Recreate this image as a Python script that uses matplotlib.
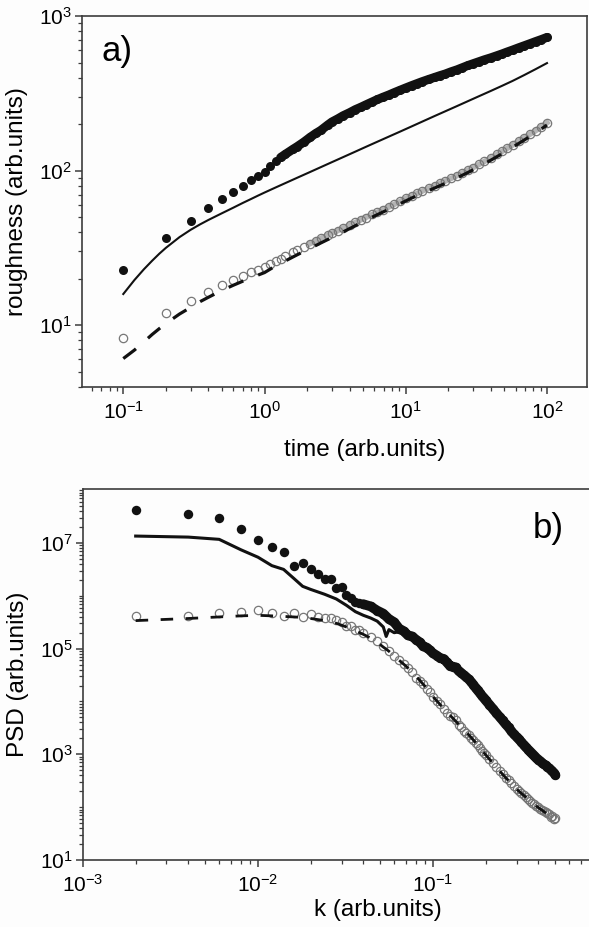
import numpy as np
import matplotlib
matplotlib.use('Agg')
import matplotlib.pyplot as plt
from matplotlib.ticker import LogLocator, NullFormatter

plt.rcParams['font.family'] = ['Liberation Sans', 'DejaVu Sans']
plt.rcParams['mathtext.default'] = 'regular'

# ---- panel a) roughness vs time ----
time_a = [0.1, 0.2, 0.3, 0.4, 0.5, 0.6, 0.7, 0.8, 0.9,
          1.0, 1.1, 1.2, 1.3, 1.4, 1.6, 1.7, 1.9, 2.1, 2.3, 2.5, 2.8, 3.0, 3.3, 3.6, 4.0,
          4.4, 4.8, 5.2, 5.8, 6.3, 6.9, 7.6, 8.3, 9.1,
          10, 11, 12, 13, 14.5, 16, 17.5, 19, 21, 23, 25, 27.5, 30, 33, 36, 40,
          44, 48, 52, 57, 63, 69, 76, 83, 91, 100]

rough_filled = [22.9, 36.7, 47.5, 56.9, 65.3, 72.3, 79.8, 86.3, 92.7,
                97.7, 107.2, 114.8, 121.6, 127.4, 138.0, 142.9, 153.1, 164.1, 173.8, 182.0, 197.2,
                206.5, 216.3, 226.5, 237.1, 248.3, 257.0, 266.1, 278.6, 288.4, 298.5, 309.0, 319.9, 331.1,
                342.8, 354.8, 365.6, 375.8, 389.0, 400.9, 412.1, 421.7, 436.5, 448.7, 462.4, 478.6,
                492.0, 507.0, 521.2, 537.0, 553.4, 568.9, 584.8, 602.6, 623.7, 642.7, 663.7, 683.9,
                704.7, 727.8]

rough_open = [8.2, 11.97, 14.35, 16.44, 18.07, 19.45, 20.75, 21.93, 22.8,
              23.7, 24.8, 25.9, 26.9, 27.9, 29.6, 30.5, 32.1, 33.7, 35.1, 36.4, 38.2,
              39.4, 40.9, 42.5, 44.5, 46.2, 48.0, 49.7, 52.0, 53.8, 56.0, 58.2, 60.5, 63.1,
              66.1, 68.7, 71.1, 73.5, 76.7, 79.8, 82.8, 85.5, 89.1, 92.7, 96.2, 100.5,
              104.7, 109.6, 114.6, 120.8, 127.1, 133.0, 139.0, 146.2, 154.9, 162.9, 172.2, 181.1,
              191.9, 204.2]

# model curves (solid / dashed) of panel a
time_line = [0.1, 0.12, 0.14, 0.16, 0.18, 0.2, 0.25, 0.3, 0.35, 0.4, 0.5, 0.6, 0.7, 0.8, 0.9,
             1.0, 1.2, 1.4, 1.7, 2.1, 2.5, 3.0, 3.6, 4.4, 5.2, 6.3, 7.6, 9.1,
             11, 13, 16, 19, 23, 27.5, 33, 40, 48, 57, 69, 83, 100]

rough_solid = [15.9, 19.6, 23.0, 26.1, 29.0, 31.6, 37.1, 41.4, 44.9, 47.9, 53.0, 57.5, 61.7, 65.4, 68.9,
               72.1, 77.8, 82.9, 89.8, 97.9, 105.2, 113.4, 122.2, 132.7, 142.2, 153.8, 166.0, 178.6,
               193.1, 206.9, 225.4, 241.7, 261.2, 281.1, 302.9, 327.6, 353.4, 380.2, 415.0, 453.0, 496.0]

rough_dashed = [6.08, 6.9, 7.8, 8.7, 9.5, 10.23, 11.8, 13.03, 14.2, 15.14, 16.79, 18.11, 19.23, 20.23, 21.09,
                21.88, 24.2, 26.0, 28.5, 31.4, 34.0, 36.9, 40.1, 44.0, 47.7, 51.9, 56.2, 61.0,
                66.4, 71.0, 77.1, 82.6, 89.6, 97.1, 105.9, 116.7, 128.5, 141.4, 157.6, 175.3, 197.0]

# ---- panel b) PSD vs k ----
k_pts = [0.002, 0.004, 0.006, 0.008, 0.010, 0.012, 0.014, 0.016, 0.018, 0.020,
         0.022, 0.024, 0.026, 0.028, 0.030, 0.032, 0.034, 0.036, 0.038, 0.040,
         0.044, 0.048, 0.052, 0.056, 0.060, 0.064, 0.068, 0.072, 0.076, 0.080,
         0.084, 0.088, 0.092, 0.096, 0.100,
         0.105, 0.110, 0.115, 0.120, 0.125, 0.130, 0.135, 0.140, 0.145, 0.150,
         0.155, 0.160, 0.165, 0.170, 0.175, 0.180, 0.185, 0.190, 0.195, 0.200,
         0.21, 0.22, 0.23, 0.24, 0.25, 0.26, 0.27, 0.28, 0.29, 0.30,
         0.31, 0.32, 0.33, 0.34, 0.35, 0.36, 0.37, 0.38, 0.39, 0.40,
         0.41, 0.42, 0.43, 0.44, 0.45, 0.46, 0.47, 0.48, 0.49, 0.50]

psd_filled = [4.27e7, 3.55e7, 3.02e7, 1.82e7, 1.15e7, 8.32e6, 6.61e6, 3.63e6, 4.17e6, 3.16e6,
              2.57e6, 2.04e6, 2.04e6, 1.38e6, 1.45e6, 1.05e6, 8.91e5, 7.76e5, 7.24e5, 6.92e5,
              6.3e5, 5.25e5, 4.6e5, 3.63e5, 3.16e5, 2.4e5, 2.14e5, 1.78e5, 1.7e5, 1.48e5,
              1.32e5, 1.1e5, 1.05e5, 9.33e4, 8.13e4,
              7.41e4, 6.61e4, 6.4e4, 5.5e4, 4.7e4, 4.57e4, 4.4e4, 3.8e4, 3.47e4, 3.16e4,
              2.88e4, 2.63e4, 2.34e4, 2.09e4, 1.82e4, 1.62e4, 1.45e4, 1.29e4, 1.17e4, 1.05e4,
              8.71e3, 7.24e3, 6.03e3, 5.13e3, 4.37e3, 3.72e3, 3.24e3, 2.75e3, 2.4e3, 2.14e3,
              1.91e3, 1.7e3, 1.51e3, 1.35e3, 1.23e3, 1.12e3, 1.02e3, 933, 851, 794,
              741, 692, 646, 617, 575, 550, 513, 479, 447, 407]

psd_open = [4.17e5, 4.15e5, 4.79e5, 5.01e5, 5.37e5, 4.79e5, 4.17e5, 4.68e5, 3.98e5, 4.52e5,
            3.98e5, 3.72e5, 3.72e5, 3.47e5, 3.16e5, 2.69e5, 2.69e5, 2.29e5, 2.24e5, 2.0e5,
            1.66e5, 1.38e5, 1.12e5, 8.91e4, 7.41e4, 6.03e4, 5.13e4, 4.27e4, 3.55e4, 2.82e4,
            2.45e4, 2.14e4, 1.74e4, 1.48e4, 1.2e4,
            1.0e4, 8.91e3, 7.24e3, 6.17e3, 5.25e3, 5.01e3, 4.37e3, 3.63e3, 3.31e3, 2.82e3,
            2.51e3, 2.34e3, 2.0e3, 1.86e3, 1.62e3, 1.51e3, 1.32e3, 1.15e3, 1.07e3, 955,
            813, 676, 575, 479, 417, 363, 324, 282, 251, 219,
            200, 186, 170, 155, 145, 132, 120, 115, 107, 100,
            93.3, 89.1, 85.1, 79.4, 75.9, 74, 64, 69, 60, 63]

k_line = [0.002, 0.004, 0.006, 0.008, 0.010, 0.012, 0.014, 0.016, 0.018, 0.020,
          0.024, 0.028, 0.032, 0.036, 0.040, 0.044, 0.048, 0.052, 0.054, 0.056,
          0.060, 0.064, 0.070, 0.076, 0.084, 0.092, 0.10, 0.12, 0.14, 0.16,
          0.18, 0.20, 0.25, 0.30, 0.35, 0.40, 0.45, 0.50]

psd_solid = [1.35e7, 1.29e7, 1.17e7, 7.41e6, 5.37e6, 3.72e6, 3.16e6, 2.14e6, 1.51e6, 1.32e6,
             1.07e6, 8.71e5, 6.61e5, 5.01e5, 4.27e5, 3.8e5, 3.31e5, 2.57e5, 1.7e5, 2.29e5,
             2.0e5, 2.09e5, 1.78e5, 1.51e5, 1.26e5, 1.0e5, 7.94e4, 5.25e4, 3.63e4, 2.51e4,
             1.58e4, 1.02e4, 4.27e3, 2.09e3, 1.2e3, 776, 562, 398]

psd_dashed = [3.39e5, 3.72e5, 3.98e5, 4.17e5, 4.27e5, 4.17e5, 4.07e5, 3.98e5, 3.89e5, 3.72e5,
              3.39e5, 3.02e5, 2.57e5, 2.19e5, 1.86e5, 1.58e5, 1.32e5, 1.07e5, 9.77e4, 8.91e4,
              7.24e4, 6.03e4, 4.68e4, 3.55e4, 2.51e4, 1.78e4, 1.23e4, 6.31e3, 3.72e3, 2.34e3,
              1.51e3, 977, 417, 219, 141, 97.7, 74.1, 58.9]

fig = plt.figure(figsize=(5.89, 9.27), dpi=100)
fig.patch.set_facecolor('#fdfdfd')

ax1 = fig.add_axes([0.1392, 0.5829, 0.8574, 0.3998])
ax2 = fig.add_axes([0.1409, 0.0723, 0.8778, 0.4002])

spine_col = '#3c3c3c'
open_col = '#777777'
black = '#111111'

# panel a
# the data points are so dense after t~1 that they merge into a band
ax1.plot(time_a[17:], rough_open[17:], color='#b4b4b4', lw=4.0, zorder=1)
ax1.plot(time_a, rough_open, 'o', ms=6.0, mfc='none', mec=open_col, mew=0.9, zorder=2)
ax1.plot(time_line, rough_dashed, color=black, lw=2.3, ls=(0, (5, 5)), zorder=3)
ax1.plot(time_line, rough_solid, color=black, lw=1.5, zorder=3)
ax1.plot(time_a[12:], rough_filled[12:], color=black, lw=6.4, solid_capstyle='round', zorder=4)
ax1.plot(time_a, rough_filled, 'o', ms=6.5, color=black, mew=0, zorder=4)

ax1.set_xscale('log')
ax1.set_yscale('log')
ax1.set_xlim(0.051, 192)
ax1.set_ylim(4, 1000)
ax1.set_xlabel('time (arb.units)', fontsize=17.5)
ax1.set_ylabel('roughness (arb.units)', fontsize=17.5, labelpad=8)
ax1.xaxis.set_label_coords(0.56, -0.14)
ax1.text(0.038, 0.88, 'a)', transform=ax1.transAxes, fontsize=25, va='baseline', ha='left')

# panel b
ax2.plot(k_pts, psd_open, 'o', ms=6.0, mfc='none', mec=open_col, mew=0.9, zorder=2)
ax2.plot(k_line, psd_dashed, color=black, lw=2.0, ls=(0, (4.5, 4.5)), zorder=3)
ax2.plot(k_line, psd_solid, color=black, lw=2.2, zorder=3)
ax2.plot(k_pts[19:], psd_filled[19:], color=black, lw=7.0, solid_capstyle='round', zorder=4)
ax2.plot(k_pts, psd_filled, 'o', ms=6.8, color=black, mew=0, zorder=4)

ax2.set_xscale('log')
ax2.set_yscale('log')
ax2.set_xlim(1e-3, 0.90)
ax2.set_ylim(10, 1.05e8)
ax2.set_yticks([1e1, 1e3, 1e5, 1e7])
ax2.yaxis.set_minor_locator(LogLocator(base=10, subs=np.arange(1, 10), numticks=40))
ax2.set_xlabel('k (arb.units)', fontsize=17.5)
ax2.set_ylabel('PSD (arb.units)', fontsize=17.5, labelpad=8)
ax2.xaxis.set_label_coords(0.57, -0.105)
ax2.text(0.87, 0.868, 'b)', transform=ax2.transAxes, fontsize=25, va='baseline', ha='left')

for ax in (ax1, ax2):
    for s in ax.spines.values():
        s.set_color(spine_col)
        s.set_linewidth(1.2)
    ax.xaxis.set_minor_locator(LogLocator(base=10, subs=np.arange(2, 10), numticks=40))
    if ax is ax1:
        ax.yaxis.set_minor_locator(LogLocator(base=10, subs=np.arange(2, 10), numticks=40))
    ax.xaxis.set_minor_formatter(NullFormatter())
    ax.yaxis.set_minor_formatter(NullFormatter())
    ax.tick_params(which='major', direction='out', length=5, width=1.1, color=spine_col,
                   labelsize=15, top=False, right=False)
    ax.tick_params(which='minor', direction='out', length=3, width=0.9, color=spine_col,
                   top=False, right=False)
    ax.tick_params(axis='y', which='major', pad=2)
    ax.tick_params(axis='x', which='major', pad=5)
    ax.set_facecolor('#fdfdfd')

plt.savefig('out.png', dpi=100, facecolor=fig.get_facecolor())
